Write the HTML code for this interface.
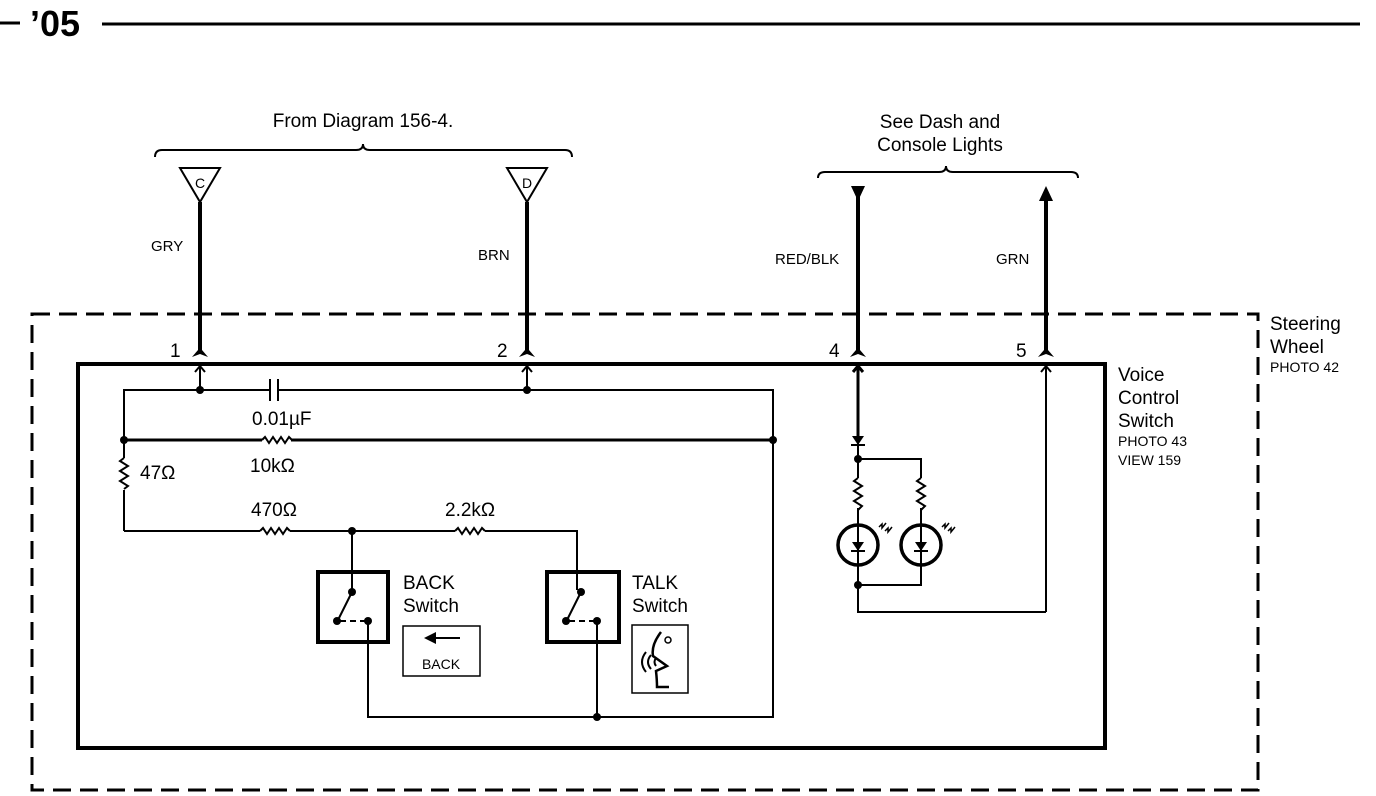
<!DOCTYPE html>
<html><head><meta charset="utf-8"><style>
html,body{margin:0;padding:0;background:#fff;}
svg{display:block;font-family:"Liberation Sans",Arial,sans-serif;}
</style></head><body>
<svg width="1376" height="796" viewBox="0 0 1376 796" xmlns="http://www.w3.org/2000/svg">
<g stroke="#000" fill="none">
<!-- header -->
<line x1="0" y1="23" x2="20" y2="23" stroke-width="3"/>
<line x1="102" y1="24" x2="1360" y2="24" stroke-width="3"/>
<!-- braces -->
<path d="M155 157 Q155 150 162 150 L356 150 Q363 150 363 144 Q363 150 370 150 L565 150 Q572 150 572 157" stroke-width="2"/>
<path d="M818 178 Q818 172 825 172 L939 172 Q946 172 946 166 Q946 172 953 172 L1071 172 Q1078 172 1078 178" stroke-width="2"/>
<!-- triangles -->
<path d="M180 168 L220 168 L200 202 Z" stroke-width="2"/>
<path d="M507 168 L547 168 L527 202 Z" stroke-width="2"/>
<!-- thick wires -->
<line x1="200" y1="202" x2="200" y2="350" stroke-width="4"/>
<line x1="527" y1="202" x2="527" y2="350" stroke-width="4"/>
<line x1="858" y1="196" x2="858" y2="350" stroke-width="4"/>
<line x1="1046" y1="196" x2="1046" y2="350" stroke-width="4"/>
<!-- outer dashed -->
<rect x="32" y="314" width="1226" height="476" stroke-width="3" stroke-dasharray="18,9"/>
<!-- inner -->
<rect x="78" y="364" width="1027" height="384" stroke-width="4"/>
<!-- internal arrows -->
<path d="M200 390 V366 M195 372 L200 366 L205 372" stroke-width="2"/>
<path d="M527 390 V366 M522 372 L527 366 L532 372" stroke-width="2"/>
<path d="M858 436 V366 M853 372 L858 366 L863 372" stroke-width="3"/>
<path d="M1046 612 V366 M1041 372 L1046 366 L1051 372" stroke-width="2"/>
<!-- top wire with capacitor -->
<path d="M124 531 V490 M124 458 V390 H270 M278 390 H773 V717 H368 V621" stroke-width="2"/>
<line x1="270" y1="379" x2="270" y2="401" stroke-width="2"/>
<line x1="278" y1="379" x2="278" y2="401" stroke-width="2"/>
<!-- 10k wire -->
<path d="M124 440 H262 M291 440 H773" stroke-width="3"/>
<path d="M262 440 l3 -3 l4 6 l4 -6 l4 6 l4 -6 l4 6 l4 -6 l3 3" stroke-width="2"/>
<!-- 47 ohm -->
<path d="M124 458 l-4 3 l8 5 l-8 5 l8 5 l-8 5 l8 5 l-4 3" stroke-width="2"/>
<!-- bottom wire -->
<path d="M124 531 H260 M290 531 H455 M485 531 H577 V590 M352 531 V590" stroke-width="2"/>
<path d="M260 531 l3 -3 l4 6 l4 -6 l4 6 l4 -6 l4 6 l4 -6 l3 3" stroke-width="2"/>
<path d="M455 531 l3 -3 l4 6 l4 -6 l4 6 l4 -6 l4 6 l4 -6 l3 3" stroke-width="2"/>
<!-- switches -->
<rect x="318" y="572" width="70" height="70" stroke-width="4"/>
<rect x="547" y="572" width="72" height="70" stroke-width="4"/>
<path d="M352 592 L339 618" stroke-width="2"/>
<path d="M340 621 H368" stroke-width="2" stroke-dasharray="6,4"/>
<path d="M581 592 L568 618" stroke-width="2"/>
<path d="M569 621 H597" stroke-width="2" stroke-dasharray="6,4"/>
<path d="M597 621 V717" stroke-width="2"/>
<rect x="403" y="626" width="77" height="50" stroke-width="1.5"/>
<path d="M430 638 H460" stroke-width="2"/>
<rect x="632" y="625" width="56" height="68" stroke-width="1.5"/>
<path d="M661 632 Q651 645 653 656 L667 666 L656 671 Q657 680 657 687 H669" stroke-width="2.5"/>
<path d="M646 652 Q638 662 646 672 M651 655 Q645 662 651 669 M656 658 Q653 662 656 666" stroke-width="2"/>
<circle cx="668" cy="640" r="3" stroke-width="1.5"/>
<!-- LED section -->
<path d="M858 436 V478 M858 508 V612 H1046 M858 459 H921 V478 M921 508 V585 H858" stroke-width="2"/>
<path d="M858 478 l-4 3 l8 5 l-8 5 l8 5 l-8 5 l8 5 l-4 4" stroke-width="2"/>
<path d="M921 478 l-4 3 l8 5 l-8 5 l8 5 l-8 5 l8 5 l-4 4" stroke-width="2"/>
<circle cx="858" cy="545" r="20" stroke-width="3.5"/>
<circle cx="921" cy="545" r="20" stroke-width="3.5"/>
<path d="M879 527 l3 -3 l0 4 l4 -5 M885 531 l3 -3 l0 4 l4 -5" stroke-width="1.5"/>
<path d="M942 527 l3 -3 l0 4 l4 -5 M948 531 l3 -3 l0 4 l4 -5" stroke-width="1.5"/>
<line x1="851" y1="445" x2="865" y2="445" stroke-width="2"/>
<line x1="851" y1="551" x2="865" y2="551" stroke-width="2"/>
<line x1="914" y1="551" x2="928" y2="551" stroke-width="2"/>
</g>
<g fill="#000">
<!-- pin forks filled -->
<path d="M198 344 L202 344 L202 350 L208 357 L200 354 L192 357 L198 350 Z"/>
<path d="M525 344 L529 344 L529 350 L535 357 L527 354 L519 357 L525 350 Z"/>
<path d="M856 344 L860 344 L860 350 L866 357 L858 354 L850 357 L856 350 Z"/>
<path d="M1044 344 L1048 344 L1048 350 L1054 357 L1046 354 L1038 357 L1044 350 Z"/>
<path d="M851 186 L865 186 L858 201 Z"/>
<path d="M1039 201 L1053 201 L1046 186 Z"/>
<path d="M852 436 L864 436 L858 445 Z"/>
<path d="M852 542 L864 542 L858 551 Z"/>
<path d="M915 542 L927 542 L921 551 Z"/>
<path d="M424 638 L436 632 L436 644 Z"/>
<circle cx="200" cy="390" r="4"/><circle cx="527" cy="390" r="4"/>
<circle cx="124" cy="440" r="4"/><circle cx="773" cy="440" r="4"/>
<circle cx="352" cy="531" r="4"/><circle cx="597" cy="717" r="4"/>
<circle cx="352" cy="592" r="4"/><circle cx="337" cy="621" r="4"/><circle cx="368" cy="621" r="4"/>
<circle cx="581" cy="592" r="4"/><circle cx="566" cy="621" r="4"/><circle cx="597" cy="621" r="4"/>
<circle cx="858" cy="459" r="4"/><circle cx="858" cy="585" r="4"/>
</g>
<g fill="#000">
<text x="30" y="36" font-size="36" font-weight="bold">’05</text>
<text x="363" y="127" font-size="19" text-anchor="middle">From Diagram 156-4.</text>
<text x="940" y="128" font-size="19" text-anchor="middle">See Dash and</text>
<text x="940" y="151" font-size="19" text-anchor="middle">Console Lights</text>
<text x="200" y="188" font-size="14" text-anchor="middle">C</text>
<text x="527" y="188" font-size="14" text-anchor="middle">D</text>
<text x="151" y="251" font-size="15">GRY</text>
<text x="478" y="260" font-size="15">BRN</text>
<text x="775" y="264" font-size="15">RED/BLK</text>
<text x="996" y="264" font-size="15">GRN</text>
<text x="170" y="357" font-size="19">1</text>
<text x="497" y="357" font-size="19">2</text>
<text x="829" y="357" font-size="19">4</text>
<text x="1016" y="357" font-size="19">5</text>
<text x="1270" y="330" font-size="19">Steering</text>
<text x="1270" y="353" font-size="19">Wheel</text>
<text x="1270" y="372" font-size="14">PHOTO 42</text>
<text x="1118" y="381" font-size="19">Voice</text>
<text x="1118" y="404" font-size="19">Control</text>
<text x="1118" y="427" font-size="19">Switch</text>
<text x="1118" y="446" font-size="14">PHOTO 43</text>
<text x="1118" y="465" font-size="14">VIEW 159</text>
<text x="252" y="425" font-size="19">0.01µF</text>
<text x="250" y="472" font-size="19">10kΩ</text>
<text x="140" y="479" font-size="19">47Ω</text>
<text x="251" y="516" font-size="19">470Ω</text>
<text x="445" y="516" font-size="19">2.2kΩ</text>
<text x="403" y="589" font-size="19">BACK</text>
<text x="403" y="612" font-size="19">Switch</text>
<text x="632" y="589" font-size="19">TALK</text>
<text x="632" y="612" font-size="19">Switch</text>
<text x="441" y="669" font-size="14" text-anchor="middle">BACK</text>
</g>
</svg>
</body></html>
